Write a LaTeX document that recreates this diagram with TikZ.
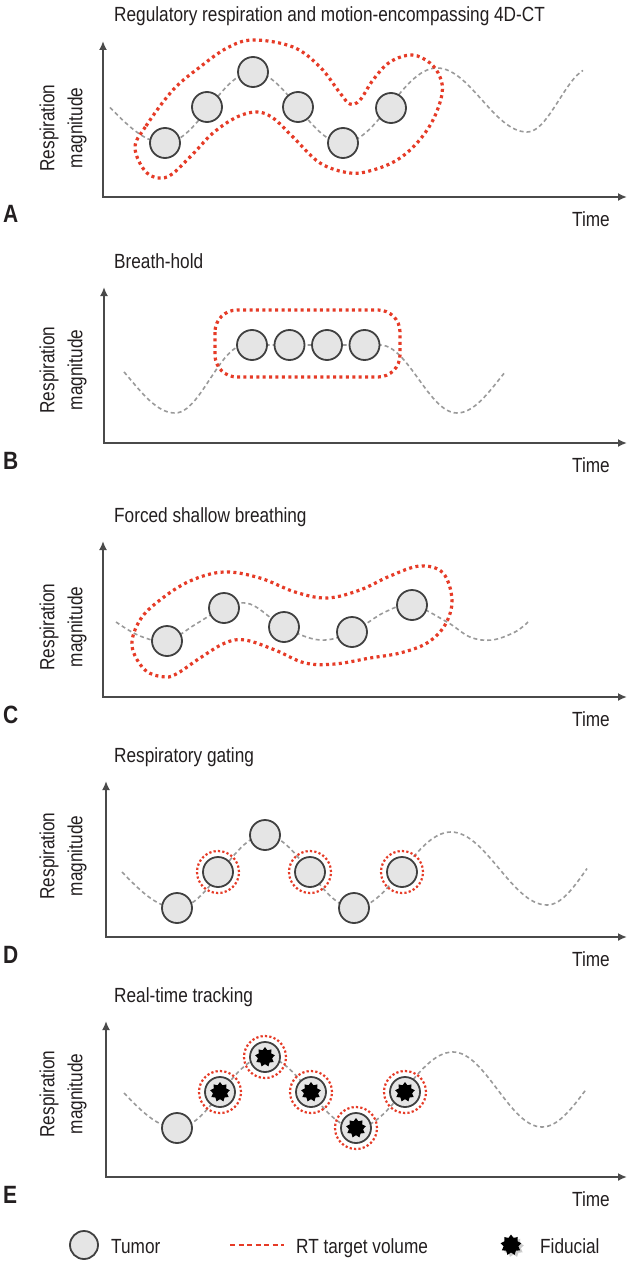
\documentclass[tikz,border=0pt]{standalone}
\usepackage{fontspec}
\setmainfont{Liberation Sans}[FakeStretch=0.84]
\usepackage{xcolor}
\usetikzlibrary{arrows.meta,shapes.geometric,shadows}
\definecolor{xred}{HTML}{E63B27}
\definecolor{xgray}{HTML}{9A9A9A}
\definecolor{xaxis}{HTML}{4A4A4A}
\definecolor{xfill}{HTML}{E5E5E5}
\definecolor{xtext}{HTML}{231F20}

\begin{document}
\begin{tikzpicture}[
    x=1pt, y=-1pt,
    >={Latex[length=9pt,width=8pt]},
    axis/.style={xaxis, line width=1.8pt},
    wave/.style={xgray, line width=1.6pt, dash pattern=on 4pt off 3pt},
    target/.style={xred, line width=3.2pt, dash pattern=on 3pt off 3.4pt},
    ring/.style={circle, draw=xred, line width=2.2pt, dash pattern=on 2.2pt off 2.2pt, minimum size=42pt, inner sep=0pt},
    tumor/.style={circle, draw=black!75, fill=xfill, line width=1.8pt, minimum size=30pt, inner sep=0pt},
    fid/.style={star, star points=9, star point ratio=1.4, fill=black, minimum size=20pt, inner sep=0pt},
    lab/.style={font=\fontsize{20.5}{28}\selectfont, text=xtext, inner sep=0pt},
]
\fill[white] (0,0) rectangle (635,1265);
\useasboundingbox (0,0) rectangle (635,1265);

% Axes, titles and labels of the five panels
\foreach \p/\ax/\ay/\ly/\ttl in {
    A/103/197/128/Regulatory respiration and motion-encompassing 4D-CT,
    B/104/443/370/Breath-hold,
    C/103/697/627/Forced shallow breathing,
    D/106/937/856/Respiratory gating,
    E/106/1177/1094/Real-time tracking%
} {
    \coordinate (o\p) at (\ax,\ay);
    \draw[axis, <->] (\ax,\ay-156) -- (o\p) -- (627,\ay);
    \node[lab, anchor=base west] (title\p) at (114,\ay-175) {\ttl};
    \node[lab, font=\fontsize{25}{25}\selectfont\bfseries, anchor=base west] (tag\p) at (3,\ay+26) {\p};
    \node[lab, anchor=base east] (time\p) at (610,\ay+29) {Time};
    \node[lab, rotate=90, align=center] (ylab\p) at (63,\ly) {Respiration\\magnitude};
}

% A: regulatory respiration
\draw[wave] plot[domain=110:165, samples=20] (\x, {107.5+35.5*cos((\x-165)/110*180)})
    -- plot[domain=165:253, samples=30] (\x, {107.5+35.5*cos((\x-165)/88*180)})
    -- plot[domain=253:343, samples=30] (\x, {107.5-35.5*cos((\x-253)/90*180)})
    -- plot[domain=343:437, samples=30] (\x, {105.5+37.5*cos((\x-343)/94*180)})
    -- plot[domain=437:527, samples=30] (\x, {100-32*cos((\x-437)/90*180)})
    -- plot[domain=527:583, samples=20] (\x, {100+32*cos((\x-527)/64*180)});
\foreach \i/\x/\y in {1/165/143, 2/207/107, 3/253/72, 4/298/107, 5/343/143, 6/391/108}
    \node[tumor] (a\i) at (\x,\y) {};
\draw[target] plot[smooth cycle, tension=0.6] coordinates {(135,148) (146,126) (173,90) (200,67) (227,48) (253,40) (293,47) (320,67) (340,93) (350,104) (360,100) (373,80) (390,62) (412,55) (430,63) (440,77) (442,94) (433,120) (417,143) (397,160) (373,170) (350,173) (320,163) (293,137) (273,118) (257,112) (237,117) (213,133) (190,157) (167,177) (147,173)};

% B: breath-hold
\draw[wave] plot[domain=124:175, samples=20] (\x, {379+34*cos((\x-175)/90*180)})
    -- plot[domain=175:245, samples=25] (\x, {379+34*cos((\x-175)/70*180)})
    -- (380,345)
    -- plot[domain=380:457, samples=25] (\x, {379-34*cos((\x-380)/77*180)})
    -- plot[domain=457:504, samples=20] (\x, {379+34*cos((\x-457)/85*180)});
\foreach \i/\x in {1/252, 2/289.5, 3/327, 4/364.5}
    \node[tumor] (b\i) at (\x,345) {};
\draw[target, rounded corners=22pt] (215,310) rectangle (400,377);

% C: forced shallow breathing
\draw[wave] plot[smooth, tension=0.6] coordinates {(116,622) (140,636) (167,641) (196,624) (224,608) (250,604) (284,627) (320,640) (352,632) (385,612) (412,605) (447,622) (470,637) (492,640) (515,632) (528,622)};
\foreach \i/\x/\y in {1/167/641, 2/224/608, 3/284/627, 4/352/632, 5/412/605}
    \node[tumor] (c\i) at (\x,\y) {};
\draw[target] plot[smooth cycle, tension=0.6] coordinates {(132,646) (140,620) (160,600) (190,581) (224,572) (260,578) (295,592) (327,598) (360,590) (390,576) (420,566) (443,573) (452,600) (445,625) (427,643) (400,653) (370,658) (335,664) (305,663) (275,650) (245,640) (225,643) (200,658) (178,673) (165,677) (145,670)};

% D: respiratory gating
\draw[wave] plot[domain=122:177, samples=20] (\x, {872+36*cos((\x-177)/110*180)})
    -- plot[domain=177:265, samples=30] (\x, {871.5+36.5*cos((\x-177)/88*180)})
    -- plot[domain=265:354, samples=30] (\x, {871.5-36.5*cos((\x-265)/89*180)})
    -- plot[domain=354:451, samples=30] (\x, {870+38*cos((\x-354)/97*180)})
    -- plot[domain=451:547, samples=30] (\x, {868.5-36.5*cos((\x-451)/96*180)})
    -- plot[domain=547:587, samples=15] (\x, {868.5+36.5*cos((\x-547)/80*180)});
\foreach \i/\x/\y in {1/177/908, 2/218/872, 3/265/835, 4/310/872, 5/354/908, 6/402/872}
    \node[tumor] (d\i) at (\x,\y) {};
\foreach \i in {2,4,6}
    \node[ring] (dr\i) at (d\i) {};

% E: real-time tracking
\draw[wave] plot[domain=124:177, samples=20] (\x, {1093+35*cos((\x-177)/106*180)})
    -- plot[domain=177:265, samples=30] (\x, {1092.5+35.5*cos((\x-177)/88*180)})
    -- plot[domain=265:356, samples=30] (\x, {1092.5-35.5*cos((\x-265)/91*180)})
    -- plot[domain=356:453, samples=30] (\x, {1090+38*cos((\x-356)/97*180)})
    -- plot[domain=453:542, samples=30] (\x, {1089.5-37.5*cos((\x-453)/89*180)})
    -- plot[domain=542:586, samples=15] (\x, {1089.5+37.5*cos((\x-542)/88*180)});
\foreach \i/\x/\y in {1/177/1128, 2/220/1092, 3/265/1057, 4/311/1092, 5/356/1128, 6/405/1092}
    \node[tumor] (e\i) at (\x,\y) {};
\foreach \i in {2,...,6} {
    \node[ring] (er\i) at (e\i) {};
    \node[fid] (ef\i) at (e\i) {};
}

% Legend
\node[tumor, minimum size=28pt] (legTumor) at (84,1245) {};
\node[lab, anchor=base west] (legTumorText) at (111,1253) {Tumor};
\coordinate (legLineA) at (230,1245);
\coordinate (legLineB) at (284,1245);
\draw[target, line width=2.6pt, dash pattern=on 5pt off 3.5pt] (legLineA) -- (legLineB);
\node[lab, anchor=base west] (legTargetText) at (296,1253) {RT target volume};
\node[fid, minimum size=21pt, drop shadow={shadow xshift=2.5pt, shadow yshift=-2pt, fill=black!40, opacity=0.5}] (legFid) at (511,1245) {};
\node[lab, anchor=base west] (legFidText) at (540,1253) {Fiducial};

\end{tikzpicture}
\end{document}
